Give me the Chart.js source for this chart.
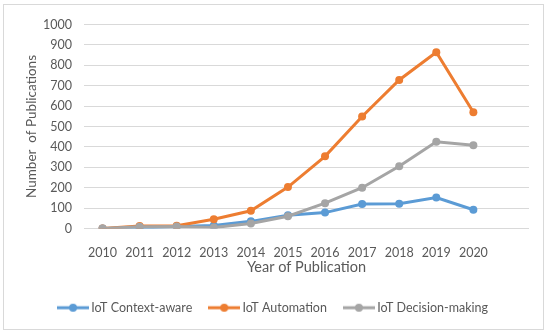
<!DOCTYPE html>
<html>
<head>
<meta charset="utf-8">
<script src="https://cdn.jsdelivr.net/npm/chart.js@4/dist/chart.umd.min.js"></script>
<style>
  body { margin: 0; background: #fff; }
  .wrap { position: absolute; left: 3px; top: 4px; width: 539px; height: 324px; border: 1px solid #d9d9d9; }
</style>
</head>
<body>
<div class="wrap"><canvas id="pubChart"></canvas></div>
<script>
// Datos
const years = [2010, 2011, 2012, 2013, 2014, 2015, 2016, 2017, 2018, 2019, 2020];
const contextAware = [0, 2, 10, 15, 35, 65, 78, 120, 121, 152, 92];
const automation = [0, 12, 13, 45, 87, 203, 354, 549, 728, 864, 570];
const decisionMaking = [0, 8, 10, 5, 25, 60, 124, 200, 305, 425, 408];
const yTicks = [0, 100, 200, 300, 400, 500, 600, 700, 800, 900, 1000];

const textColor = '#595959';
const fontFamily = 'Lato, "Open Sans", sans-serif';

function toPoints(values) {
    return years.map((y, i) => ({ x: y, y: values[i] }));
}

// muestra de leyenda: línea con un punto al centro
function legendSample(color) {
    const c = document.createElement('canvas');
    c.width = 32;
    c.height = 10;
    const ctx = c.getContext('2d');
    ctx.strokeStyle = color;
    ctx.lineWidth = 3;
    ctx.beginPath();
    ctx.moveTo(0, 5);
    ctx.lineTo(32, 5);
    ctx.stroke();
    ctx.fillStyle = color;
    ctx.beginPath();
    ctx.arc(16, 5, 4, 0, Math.PI * 2);
    ctx.fill();
    return c;
}

function serie(label, values, color, order) {
    return {
        label: label,
        data: toPoints(values),
        borderColor: color,
        backgroundColor: color,
        borderWidth: 3,
        pointRadius: 4,
        pointHoverRadius: 4,
        pointBorderWidth: 0,
        tension: 0,
        order: order
    };
}

const pubChart = new Chart(document.getElementById('pubChart'), {
    type: 'line',
    data: {
        datasets: [
            serie('IoT Context-aware', contextAware, '#5B9BD5', 2),
            serie('IoT Automation', automation, '#ED7D31', 1),
            serie('IoT Decision-making', decisionMaking, '#A5A5A5', 0)
        ]
    },
    options: {
        responsive: true,
        maintainAspectRatio: false,
        animation: false,
        layout: { padding: { left: 16, right: 14, top: 16, bottom: 5 } },
        plugins: {
            tooltip: { enabled: false },
            legend: {
                position: 'bottom',
                labels: {
                    usePointStyle: true,
                    pointStyleWidth: 24,
                    padding: 20,
                    color: textColor,
                    font: { family: fontFamily, size: 12.5 },
                    generateLabels: function(chart) {
                        return chart.data.datasets.map((ds, i) => ({
                            text: ds.label,
                            fillStyle: ds.borderColor,
                            strokeStyle: ds.borderColor,
                            lineWidth: 0,
                            pointStyle: legendSample(ds.borderColor),
                            fontColor: textColor,
                            hidden: false,
                            datasetIndex: i
                        }));
                    }
                }
            }
        },
        scales: {
            x: {
                type: 'linear',
                min: 2009.5,
                max: 2021.5,
                afterBuildTicks: function(axis) {
                    axis.ticks = years.map(v => ({ value: v }));
                },
                afterFit: function(axis) { axis.height = 53; },
                grid: { display: false },
                border: { display: false },
                ticks: {
                    padding: 9,
                    color: textColor,
                    font: { family: fontFamily, size: 12.5 },
                    callback: v => String(v),
                    maxRotation: 0
                },
                title: {
                    display: true,
                    text: 'Year of Publication',
                    color: textColor,
                    font: { family: fontFamily, size: 14.5 },
                    padding: { bottom: 5 }
                }
            },
            y: {
                min: 0,
                max: 1000,
                afterBuildTicks: function(axis) {
                    axis.ticks = yTicks.map(v => ({ value: v }));
                },
                afterFit: function(axis) { axis.width = 64; },
                grid: { color: '#d9d9d9', lineWidth: 1, drawTicks: false },
                border: { display: false },
                ticks: {
                    padding: 12,
                    color: textColor,
                    font: { family: fontFamily, size: 12.5 },
                    callback: v => String(v)
                },
                title: {
                    display: true,
                    text: 'Number  of Publications',
                    color: textColor,
                    font: { family: fontFamily, size: 13.5 },
                    padding: { top: 4 }
                }
            }
        }
    }
});
</script>
</body>
</html>
